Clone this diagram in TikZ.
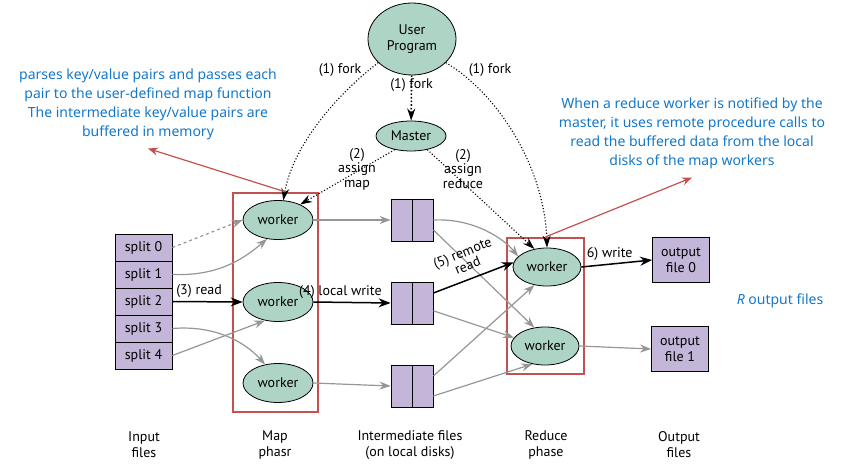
\documentclass[tikz,border=0pt]{standalone}
\usepackage{fontspec}
\setmainfont{PT Sans}
\newfontfamily\notefont{Noto Sans}
\usepackage{tikz}
\usetikzlibrary{positioning,shapes.geometric,arrows.meta}
\definecolor{workergreen}{RGB}{173,212,196}
\definecolor{filepurple}{RGB}{195,182,216}
\definecolor{boxred}{RGB}{197,80,80}
\definecolor{flowgray}{RGB}{150,150,150}
\definecolor{noteblue}{RGB}{20,120,200}

\begin{document}
\begin{tikzpicture}[x=1pt,y=-1pt,font=\fontsize{14}{16}\selectfont,
  worker/.style={ellipse,draw,thick,fill=workergreen,minimum width=70pt,minimum height=39pt,inner sep=0pt},
  filebox/.style={draw,thick,fill=filepurple,inner sep=0pt,align=center},
  flow/.style={draw=flowgray,line width=1.2pt,-{Stealth[length=11pt,width=8pt]}},
  bold/.style={draw=black,line width=1.5pt,-{Stealth[length=12pt,width=9pt]}},
  ctrl/.style={dotted,line width=1.1pt,-{Stealth[length=12pt,width=8pt]}},
  phasebox/.style={draw=boxred,line width=2.2pt},
  redarrow/.style={draw=boxred,line width=1.2pt,-{Stealth[length=10pt,width=8pt]}},
  note/.style={font=\notefont\fontsize{14}{19}\selectfont,text=noteblue,align=center},
  phase/.style={align=center}]
\useasboundingbox (0,0) rectangle (857,471);

% control nodes
\node[worker,minimum width=88pt,minimum height=72pt,align=center] (user) at (412,39) {User\\Program};
\node[worker,minimum width=70pt,minimum height=30pt] (master) at (411,136) {Master};

% input splits
\foreach \i in {0,...,4}
  \node[filebox,minimum width=57pt,minimum height=27pt] (s\i) at (143.5,{247.5+27*\i}) {split \i};

% map workers
\node[worker] (mw0) at (278,220) {worker};
\node[worker] (mw1) at (278,302) {worker};
\node[worker] (mw2) at (278,383) {worker};

% intermediate files
\foreach \i/\y in {0/220,1/303,2/386} {
  \node[filebox,minimum width=42pt,minimum height=42pt] (f\i) at (412,\y) {};
  \draw[thick] (f\i.north) -- (f\i.south);
}

% reduce workers and outputs
\node[worker,minimum width=68pt,minimum height=38pt] (rw0) at (547,267) {worker};
\node[worker,minimum width=68pt,minimum height=38pt] (rw1) at (545,346) {worker};
\node[filebox,minimum width=57pt,minimum height=45pt] (o0) at (681,260) {output\\file 0};
\node[filebox,minimum width=57pt,minimum height=45pt] (o1) at (680,349) {output\\file 1};

% phase boxes
\node[phasebox,minimum width=85pt,minimum height=219pt] (mapbox) at (275.5,302.5) {};
\node[phasebox,minimum width=77pt,minimum height=136pt] (redbox) at (545.5,306) {};

% fork and assign
\draw[ctrl,line width=1.6pt] (user) -- (master) node[pos=0.22] (fk1) {(1) fork};
\draw[ctrl] (user.215) .. controls (330,100) and (292,150) .. (mw0.75);
\draw[ctrl] (user.325) .. controls (500,95) and (545,170) .. (rw0.north);
\node (fk0) at (340,70) {(1) fork};
\node (fk2) at (490,70) {(1) fork};
\draw[ctrl] (master.220) -- (mw0.35);
\draw[ctrl] (master.320) -- (rw0.125);
\node[phase,font=\fontsize{14}{14.5}\selectfont] (asm) at (357,169) {(2)\\assign\\map};
\node[phase,font=\fontsize{14}{14.5}\selectfont] (asr) at (463,169) {(2)\\assign\\reduce};

% read
\draw[flow,dashed] (s0.east) -- (mw0.west);
\draw[flow] (s1.east) .. controls (215,276) and (240,262) .. (mw0.240);
\draw[bold] (s2.east) -- (mw1.west) node[pos=0.38,above] (rd) {(3) read};
\draw[flow] (s3.east) .. controls (215,325) and (245,342) .. (mw2.125);
\draw[flow] (s4.east) -- (mw1.235);

% local write
\draw[flow] (mw0.east) -- (f0.west);
\draw[bold] (mw1.east) -- (f1.west) node[pos=0.35,above] (lw) {(4) local write};
\draw[flow] (mw2.east) -- (f2.west);

% remote read
\draw[flow] (f0.east) .. controls (475,218) and (505,240) .. (rw0.160);
\draw[flow] (f0.-25) -- (rw1.120);
\draw[bold] (f1.25) -- (rw0.172);
\node[phase,rotate=22,font=\fontsize{14}{12}\selectfont] (rr) at (465,259) {(5) remote\\read};
\draw[flow] (f1.-20) -- (rw1.165);
\draw[flow] (f2.25) -- (rw0.235);
\draw[flow] (f2.-25) -- (rw1.235);

% output
\draw[bold] (rw0.east) -- (o0.west) node[pos=0.4,above] (wr) {6) write};
\draw[flow] (rw1.east) -- (o1.west);

% notes
\node[note] (lnote) at (148,104.5) {parses key/value pairs and passes each\\pair to the user-defined map function\\The intermediate key/value pairs are\\buffered in memory};
\node[note] (rnote) at (692,133.5) {When a reduce worker is notified by the\\master, it uses remote procedure calls to\\read the buffered data from the local\\disks of the map workers};
\node[note] (rout) at (780,301) {\textit{R} output files};
\draw[redarrow] ([xshift=10pt]mapbox.north) -- ([yshift=-5pt]lnote.south);
\draw[redarrow] (redbox.north) -- ([yshift=-5pt]rnote.south);

% phase labels
\node[phase] (lin) at (144,445) {Input\\files};
\node[phase] (lmap) at (275,445) {Map\\phasr};
\node[phase] (lint) at (410,445) {Intermediate files\\(on local disks)};
\node[phase] (lred) at (546,445) {Reduce\\phase};
\node[phase] (lout) at (679,445) {Output\\files};
\end{tikzpicture}
\end{document}
